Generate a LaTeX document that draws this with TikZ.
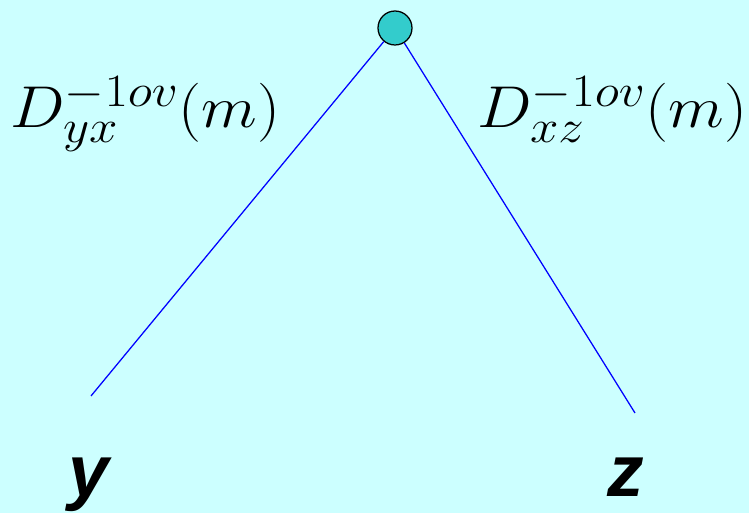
\documentclass[tikz,border=0pt]{standalone}
\usepackage{fix-cm}
\usepackage{fontspec}
\newfontfamily\labfont{Liberation Sans}
\DeclareMathSizes{42}{42}{33}{26}
\definecolor{bgcyan}{HTML}{CCFFFF}
\definecolor{dotcyan}{HTML}{33CCCC}
\begin{document}
\begin{tikzpicture}[every node/.style={inner sep=0pt},
  vtx/.style={circle,draw,fill=dotcyan,line width=0.9pt,minimum size=0.85cm},
  edge/.style={blue,line width=0.9pt},
  lab/.style={font=\fontsize{42}{50}\selectfont,xscale=1.1,transform shape},
  leaf/.style={font=\fontsize{52}{60}\selectfont\labfont\bfseries\itshape}]
\fill[bgcyan] (0,0) rectangle (18.725,12.825);
\node[vtx] (r) at (9.875,12.125) {};
\coordinate (a) at (2.275,2.925);
\coordinate (b) at (15.875,2.5);
\node[lab,anchor=base west] (la) at (0.25,9.625) {$D^{-1ov}_{yx}(m)$};
\node[lab,anchor=base west] (lb) at (11.925,9.625) {$D^{-1ov}_{xz}(m)$};
\node[leaf,anchor=base] (y) at (2.225,0.4) {y};
\node[leaf,anchor=base] (z) at (15.65,0.4) {z};
\draw[edge] (r)--(a) (r)--(b);
\end{tikzpicture}
\end{document}
